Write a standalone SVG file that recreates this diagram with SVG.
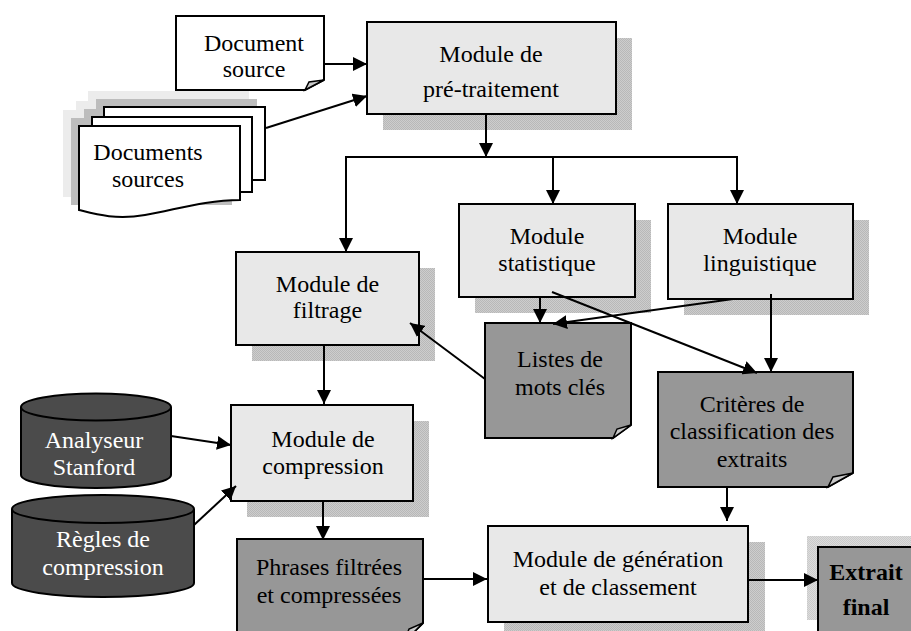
<svg xmlns="http://www.w3.org/2000/svg" width="911" height="631" viewBox="0 0 911 631">
<style>
.t{font-family:Tinos,'Times New Roman','Liberation Serif',serif;font-size:24px;text-anchor:middle;fill:#000}
.w{fill:#fff}
.b{font-weight:bold}
.mod{fill:#e8e8e8;stroke:#000;stroke-width:2}
.doc{fill:#979797;stroke:#000;stroke-width:2}
.wdoc{fill:#fff;stroke:#000;stroke-width:2}
.fold{fill:#c8c8c8;stroke:#000;stroke-width:1.5}
.cyl{fill:#4b4b4b;stroke:#000;stroke-width:2}
.sh{fill:url(#dither)}
.sh2{fill:url(#dither2)}
.c line{stroke:#000;stroke-width:2;fill:none}
.arr{marker-end:url(#ah)}
</style>
<defs>
<pattern id="dither" width="2" height="2" patternUnits="userSpaceOnUse">
<rect width="2" height="2" fill="#cdcdcd"/>
<rect width="1" height="1" fill="#b8b8b8"/>
<rect x="1" y="1" width="1" height="1" fill="#b8b8b8"/>
</pattern>
<pattern id="dither2" width="2" height="2" patternUnits="userSpaceOnUse">
<rect width="2" height="2" fill="#dcdcdc"/>
<rect width="1" height="1" fill="#cacaca"/>
<rect x="1" y="1" width="1" height="1" fill="#cacaca"/>
</pattern>
<marker id="ah" markerUnits="userSpaceOnUse" markerWidth="15" markerHeight="14" refX="14" refY="7" orient="auto">
<path d="M0,0 L14,7 L0,14 Z" fill="#000"/>
</marker>
</defs>
<rect width="911" height="631" fill="#fff"/>

<g id="document-source">
<path class="wdoc" d="M176,16 H324 V80 L305,90 H176 Z"/>
<path class="fold" d="M324,80 L305,90 L309,82 Z"/>
<text class="t" x="254" y="51">Document</text>
<text class="t" x="254" y="77">source</text>
</g>

<g id="documents-sources">
<rect x="88" y="91" width="161" height="73" fill="#ececec"/>
<rect x="76" y="101" width="160" height="75" fill="#ececec"/>
<rect x="63" y="110" width="161" height="87" fill="#ececec"/>
<rect x="96" y="99" width="161" height="73" fill="#bdbdbd"/>
<rect x="84" y="109" width="160" height="75" fill="#bdbdbd"/>
<rect x="71" y="118" width="161" height="87" fill="#bdbdbd"/>
<rect class="wdoc" x="104" y="107" width="161" height="73"/>
<rect class="wdoc" x="92" y="117" width="160" height="75"/>
<path class="wdoc" d="M79,126 H240 V200 C205,200 175,210 145,215 C115,220 95,214 79,210 Z"/>
<text class="t" x="148" y="160">Documents</text>
<text class="t" x="148" y="187">sources</text>
</g>

<g id="pretraitement">
<rect class="sh" x="383" y="38" width="249" height="92"/>
<rect class="mod" x="367" y="22" width="249" height="92"/>
<text class="t" x="491" y="62">Module de</text>
<text class="t" x="491" y="97">pré-traitement</text>
</g>

<g id="filtrage">
<rect class="sh" x="252" y="268" width="183" height="93"/>
<rect class="mod" x="236" y="252" width="183" height="93"/>
<text class="t" x="327.5" y="292">Module de</text>
<text class="t" x="327.5" y="318">filtrage</text>
</g>

<g id="statistique">
<rect class="sh" x="475" y="220" width="176" height="93"/>
<rect class="mod" x="459" y="204" width="176" height="93"/>
<text class="t" x="547" y="244">Module</text>
<text class="t" x="547" y="271">statistique</text>
</g>

<g id="linguistique">
<rect class="sh" x="684" y="220" width="185" height="95"/>
<rect class="mod" x="668" y="204" width="185" height="95"/>
<text class="t" x="760" y="244">Module</text>
<text class="t" x="760" y="271">linguistique</text>
</g>

<g id="listes-mots-cles">
<path class="doc" d="M485,323 H631 V425 L613,438 H485 Z"/>
<path class="fold" d="M631,425 L613,438 L617,429 Z"/>
<text class="t" x="560" y="367">Listes de</text>
<text class="t" x="560" y="395">mots clés</text>
</g>

<g id="criteres">
<path class="doc" d="M658,372 H853 V473 L828,487 H658 Z"/>
<path class="fold" d="M853,473 L828,487 L833,477 Z"/>
<text class="t" x="752" y="412">Critères de</text>
<text class="t" x="752" y="439">classification des</text>
<text class="t" x="752" y="467">extraits</text>
</g>

<g id="analyseur-stanford">
<path class="cyl" d="M21,407 V475 A75,13 0 0 0 171,475 V407"/>
<ellipse class="cyl" cx="96" cy="407" rx="75" ry="13.5"/>
<text class="t w" x="94" y="448">Analyseur</text>
<text class="t w" x="94" y="475">Stanford</text>
</g>

<g id="regles-compression">
<path class="cyl" d="M12,509 V583 A91,14 0 0 0 194,583 V509"/>
<ellipse class="cyl" cx="103" cy="509" rx="91" ry="14"/>
<text class="t w" x="103" y="547">Règles de</text>
<text class="t w" x="103" y="575">compression</text>
</g>

<g id="compression">
<rect class="sh" x="247" y="421" width="182" height="96"/>
<rect class="mod" x="231" y="405" width="182" height="96"/>
<text class="t" x="323" y="447">Module de</text>
<text class="t" x="323" y="474">compression</text>
</g>

<g id="phrases">
<path class="doc" d="M237,539 H423 V623 L404,642 H237 Z"/>
<path class="fold" d="M423,623 L404,642 L409,629 Z"/>
<text class="t" x="329" y="575">Phrases filtrées</text>
<text class="t" x="329" y="603">et compressées</text>
</g>

<g id="generation">
<rect class="sh" x="504" y="542" width="261" height="100"/>
<rect class="mod" x="488" y="526" width="260" height="96"/>
<text class="t" x="618" y="567">Module de génération</text>
<text class="t" x="618" y="595">et de classement</text>
</g>

<g id="extrait-final">
<rect class="sh2" x="807" y="536" width="110" height="84"/>
<path class="doc" d="M818,547 H930 V650 H818 Z"/>
<text class="t b" x="866" y="580">Extrait</text>
<text class="t b" x="866" y="615">final</text>
</g>

<g id="connectors" class="c">
<line class="arr" x1="324" y1="64" x2="367" y2="64"/>
<line class="arr" x1="266" y1="128" x2="367" y2="96"/>
<line class="arr" x1="486" y1="114" x2="486" y2="157"/>
<line x1="345" y1="157" x2="738" y2="157"/>
<line class="arr" x1="346" y1="157" x2="346" y2="252"/>
<line class="arr" x1="553" y1="157" x2="553" y2="204"/>
<line class="arr" x1="737" y1="157" x2="737" y2="204"/>
<line class="arr" x1="540" y1="297" x2="540" y2="323"/>
<line class="arr" x1="733" y1="299" x2="553" y2="324"/>
<line class="arr" x1="552" y1="292" x2="757" y2="373"/>
<line class="arr" x1="771" y1="294" x2="771" y2="372"/>
<line class="arr" x1="485" y1="379" x2="410" y2="323"/>
<line class="arr" x1="324" y1="345" x2="324" y2="404"/>
<line class="arr" x1="171" y1="436" x2="231" y2="445"/>
<line class="arr" x1="194" y1="525" x2="236" y2="486"/>
<line class="arr" x1="323" y1="501" x2="323" y2="540"/>
<line class="arr" x1="423" y1="579" x2="487" y2="579"/>
<line class="arr" x1="727" y1="487" x2="727" y2="521"/>
<line class="arr" x1="748" y1="580" x2="818" y2="580"/>
</g>
</svg>
